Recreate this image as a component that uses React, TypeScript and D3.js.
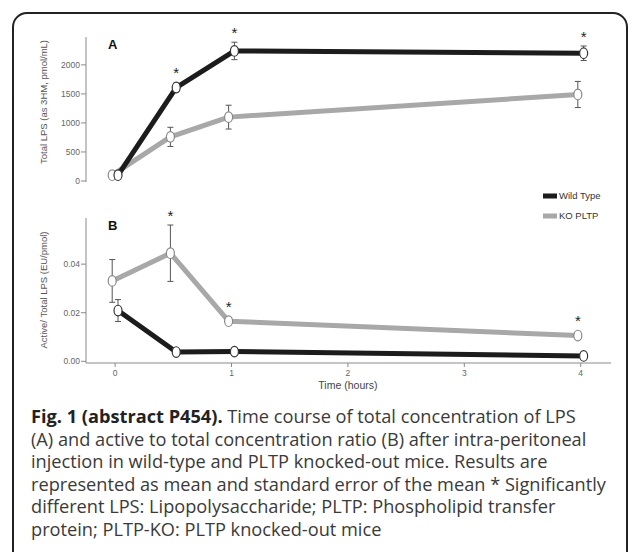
import { useEffect, useRef } from "react";
import * as d3 from "d3";

// time points (hours)
const hours = [0, 0.5, 1, 4];

// panel A: total LPS (pmol/mL)
const wtTotal = [100, 1610, 2240, 2200];
const wtTotalErr = [0, 75, 150, 125];
const koTotal = [100, 760, 1100, 1490];
const koTotalErr = [0, 165, 205, 225];
const starsTotal = [false, true, true, true]; // above wild type

// panel B: active / total ratio (EU/pmol)
const wtRatio = [0.0209, 0.0038, 0.004, 0.0022];
const wtRatioErr = [0.0045, 0, 0, 0];
const koRatio = [0.0331, 0.0445, 0.0165, 0.0106];
const koRatioErr = [0.0088, 0.0116, 0, 0];
const starsRatio = [false, true, true, true]; // above KO

const totalTicks = [0, 500, 1000, 1500, 2000];
const ratioTicks = [0, 0.02, 0.04];
const hourTicks = [0, 1, 2, 3, 4];

const captionLines = [
  ["Fig. 1 (abstract P454).", " Time course of total concentration of LPS"],
  ["", "(A) and active to total concentration ratio (B) after intra-peritoneal"],
  ["", "injection in wild-type and PLTP knocked-out mice. Results are"],
  ["", "represented as mean and standard error of the mean * Significantly"],
  ["", "different LPS: Lipopolysaccharide; PLTP: Phospholipid transfer"],
  ["", "protein; PLTP-KO: PLTP knocked-out mice"],
];

const WT_COLOR = "#1c1c1c";
const KO_COLOR = "#a8a8a8";
const AXIS_COLOR = "#8a8a8a";
const TICK_TEXT = "#666";
const JITTER = 0.025;
const FONT = "Liberation Sans, Arial, sans-serif";

const App = () => {
  const ref = useRef<SVGSVGElement>(null);

  useEffect(() => {
    if (!ref.current) return;
    const svg = d3.select(ref.current);
    svg.selectAll("*").remove();

    // outer rounded frame
    svg
      .append("rect")
      .attr("x", 13)
      .attr("y", 13)
      .attr("width", 614)
      .attr("height", 560)
      .attr("rx", 14)
      .attr("fill", "white")
      .attr("stroke", "#222")
      .attr("stroke-width", 2);

    const x = d3.scaleLinear().domain([-0.25, 4.26]).range([86, 611]);
    const yA = d3.scaleLinear().domain([0, 2480]).range([181, 37]);
    const yB = d3.scaleLinear().domain([0, 0.059]).range([361.3, 218]);

    const drawPanel = (
      y: d3.ScaleLinear<number, number>,
      ticks: number[],
      fmt: (d: number) => string,
      title: string,
      titleY: number,
      letter: string,
      wt: number[],
      wtErr: number[],
      ko: number[],
      koErr: number[],
      stars: boolean[],
      starOnWt: boolean,
      bottom: number
    ) => {
      const g = svg.append("g");

      // y axis
      g.append("line")
        .attr("x1", 86)
        .attr("x2", 86)
        .attr("y1", y.range()[1])
        .attr("y2", bottom)
        .attr("stroke", AXIS_COLOR)
        .attr("stroke-width", 1);

      const tk = g.selectAll(".tick").data(ticks).enter().append("g");
      tk.append("line")
        .attr("x1", 81)
        .attr("x2", 86)
        .attr("y1", (d) => y(d))
        .attr("y2", (d) => y(d))
        .attr("stroke", AXIS_COLOR);
      tk.append("text")
        .attr("x", 80)
        .attr("y", (d) => y(d))
        .attr("dy", "0.35em")
        .attr("text-anchor", "end")
        .style("font-family", FONT)
        .style("font-size", "8.5px")
        .style("fill", TICK_TEXT)
        .text((d) => fmt(d));

      g.append("text")
        .attr("transform", `translate(47,${titleY}) rotate(-90)`)
        .attr("text-anchor", "middle")
        .style("font-family", FONT)
        .style("font-size", "9.5px")
        .style("fill", "#555")
        .text(title);

      g.append("text")
        .attr("x", 108)
        .attr("y", y.range()[1] + 12)
        .style("font-family", FONT)
        .style("font-size", "13px")
        .style("font-weight", "bold")
        .style("fill", "#111")
        .text(letter);

      const series = [
        { vals: ko, err: koErr, color: KO_COLOR, off: -JITTER, ring: "#888" },
        { vals: wt, err: wtErr, color: WT_COLOR, off: JITTER, ring: "#333" },
      ];

      series.forEach((s) => {
        const line = d3
          .line<number>()
          .x((_, i) => x(hours[i] + s.off))
          .y((d) => y(d));
        g.append("path")
          .datum(s.vals)
          .attr("d", line)
          .attr("fill", "none")
          .attr("stroke", s.color)
          .attr("stroke-width", 5)
          .attr("stroke-linejoin", "round");
      });

      // error bars
      series.forEach((s) => {
        const eb = g
          .selectAll(null)
          .data(s.vals.map((v, i) => ({ v, e: s.err[i], t: hours[i] + s.off })))
          .enter()
          .filter((d) => d.e > 0)
          .append("g")
          .attr("stroke", "#555")
          .attr("stroke-width", 1);
        eb.append("line")
          .attr("x1", (d) => x(d.t))
          .attr("x2", (d) => x(d.t))
          .attr("y1", (d) => y(d.v - d.e))
          .attr("y2", (d) => y(d.v + d.e));
        [1, -1].forEach((sg) => {
          eb.append("line")
            .attr("x1", (d) => x(d.t) - 3)
            .attr("x2", (d) => x(d.t) + 3)
            .attr("y1", (d) => y(d.v + sg * d.e))
            .attr("y2", (d) => y(d.v + sg * d.e));
        });
      });

      // open markers
      series.forEach((s) => {
        g.selectAll(null)
          .data(s.vals)
          .enter()
          .append("ellipse")
          .attr("cx", (_, i) => x(hours[i] + s.off))
          .attr("cy", (d) => y(d))
          .attr("rx", 4)
          .attr("ry", 5.3)
          .attr("fill", "white")
          .attr("stroke", s.ring)
          .attr("stroke-width", 1.2);
      });

      // significance stars
      const ss = starOnWt ? series[1] : series[0];
      g.selectAll(null)
        .data(ss.vals.map((v, i) => ({ v, e: ss.err[i], t: hours[i] + ss.off, s: stars[i] })))
        .enter()
        .filter((d) => d.s)
        .append("text")
        .attr("x", (d) => x(d.t))
        .attr("y", (d) => Math.min(y(d.v + d.e), y(d.v) - 5.3) - 4)
        .attr("text-anchor", "middle")
        .style("font-family", FONT)
        .style("font-size", "15px")
        .style("fill", "#222")
        .text("*");
    };

    drawPanel(
      yA,
      totalTicks,
      (d) => String(d),
      "Total LPS (as 3HM, pmol/mL)",
      102,
      "A",
      wtTotal,
      wtTotalErr,
      koTotal,
      koTotalErr,
      starsTotal,
      true,
      182
    );

    drawPanel(
      yB,
      ratioTicks,
      (d) => d.toFixed(2),
      "Active/ Total LPS (EU/pmol)",
      290,
      "B",
      wtRatio,
      wtRatioErr,
      koRatio,
      koRatioErr,
      starsRatio,
      false,
      363
    );

    // x axis for panel B
    const xg = svg.append("g");
    xg.append("line")
      .attr("x1", 86)
      .attr("x2", 611)
      .attr("y1", 363)
      .attr("y2", 363)
      .attr("stroke", AXIS_COLOR);
    const xt = xg.selectAll(null).data(hourTicks).enter().append("g");
    xt.append("line")
      .attr("x1", (d) => x(d))
      .attr("x2", (d) => x(d))
      .attr("y1", 363)
      .attr("y2", 367)
      .attr("stroke", AXIS_COLOR);
    xt.append("text")
      .attr("x", (d) => x(d))
      .attr("y", 376)
      .attr("text-anchor", "middle")
      .style("font-family", FONT)
      .style("font-size", "8.5px")
      .style("fill", TICK_TEXT)
      .text((d) => String(d));
    xg.append("text")
      .attr("x", x(2))
      .attr("y", 389)
      .attr("text-anchor", "middle")
      .style("font-family", FONT)
      .style("font-size", "10.5px")
      .style("fill", "#444")
      .text("Time (hours)");

    // legend
    const legend = svg.append("g").attr("transform", "translate(543,196)");
    [
      { label: "Wild Type", color: WT_COLOR },
      { label: "KO PLTP", color: KO_COLOR },
    ].forEach((d, i) => {
      const row = legend.append("g").attr("transform", `translate(0,${i * 20})`);
      row.append("rect")
        .attr("x", 0)
        .attr("y", -2.5)
        .attr("width", 14)
        .attr("height", 5)
        .attr("fill", d.color);
      row.append("text")
        .attr("x", 16)
        .attr("y", 0)
        .attr("dy", "0.35em")
        .style("font-family", FONT)
        .style("font-size", "9.5px")
        .style("fill", "#333")
        .text(d.label);
    });

    // caption
    const cap = svg
      .append("text")
      .style("font-family", "Open Sans, Noto Sans, sans-serif")
      .style("font-size", "18.2px")
      .style("fill", "#3a3a3a");
    captionLines.forEach(([bold, rest], i) => {
      const t = cap.append("tspan").attr("x", 31).attr("y", 423 + i * 22.5);
      if (bold) {
        t.style("font-weight", "bold").style("fill", "#222").text(bold);
        cap.append("tspan").text(rest);
      } else {
        t.text(rest);
      }
    });
  }, []);

  return (
    <svg
      ref={ref}
      width={632}
      height={552}
      style={{ position: "absolute", left: 0, top: 0, background: "white" }}
    />
  );
};

export default App;
